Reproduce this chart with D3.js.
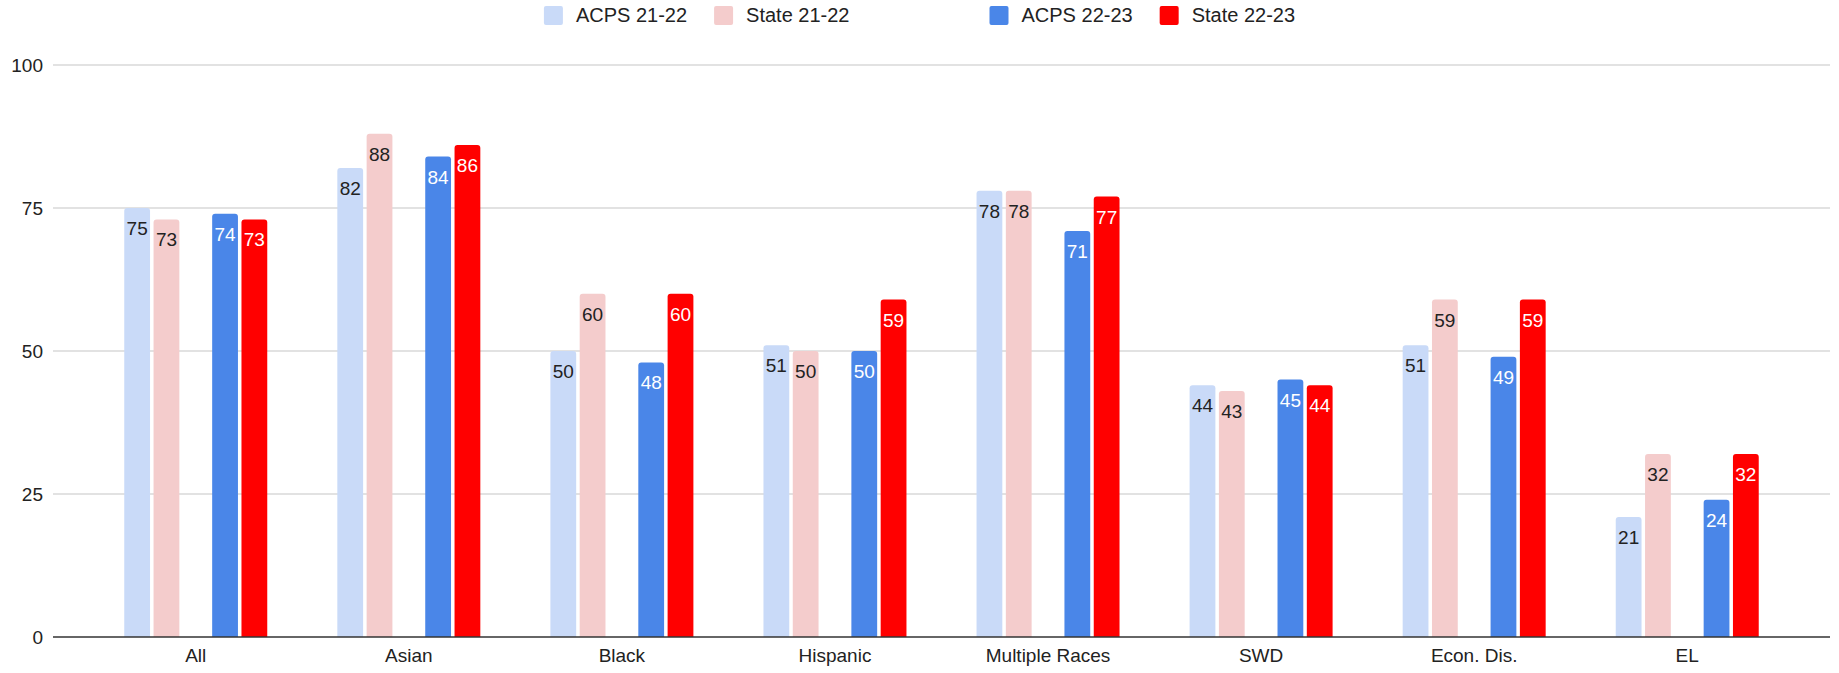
<!DOCTYPE html>
<html>
<head>
<meta charset="utf-8">
<script src="https://cdn.jsdelivr.net/npm/d3@7"></script>
<style>
  body { margin: 0; background: #fff; }
  svg { display: block; font-family: "Liberation Sans", Arial, sans-serif; }
</style>
</head>
<body>
<svg class="chart" width="1839" height="673"></svg>
<script>
const categories = ['All', 'Asian', 'Black', 'Hispanic', 'Multiple Races', 'SWD', 'Econ. Dis.', 'EL'];
const seriesNames = ['ACPS 21-22', 'State 21-22', '', 'ACPS 22-23', 'State 22-23'];
const acps2122 = [75, 82, 50, 51, 78, 44, 51, 21];
const state2122 = [73, 88, 60, 50, 78, 43, 59, 32];
const acps2223 = [74, 84, 48, 50, 71, 45, 49, 24];
const state2223 = [73, 86, 60, 59, 77, 44, 59, 32];
const yTicks = [0, 25, 50, 75, 100];

const colors = ['#c9daf8', '#f4cccc', 'none', '#4a86e8', '#ff0000'];
const labelColors = ['#222', '#222', 'none', '#fff', '#fff'];
const seriesValues = [acps2122, state2122, null, acps2223, state2223];

const width = 1839, height = 673;
const margin = { top: 65, right: 9, bottom: 36, left: 53 };
const svg = d3.select('.chart');

const x0 = d3.scaleBand()
    .domain(categories)
    .range([margin.left, width - margin.right])
    .paddingInner(0)
    .paddingOuter(0.17);

const x1 = d3.scaleBand()
    .domain(d3.range(seriesNames.length))
    .range([(x0.bandwidth() - 143) / 2, (x0.bandwidth() + 143) / 2])
    .paddingInner(0.12);

const y = d3.scaleLinear()
    .domain([0, 100])
    .range([height - margin.bottom, margin.top]);

// gridlines
svg.append('g').attr('class', 'grid')
    .selectAll('line')
    .data(yTicks.filter(d => d > 0))
    .join('line')
    .attr('x1', margin.left).attr('x2', width - margin.right)
    .attr('y1', d => y(d)).attr('y2', d => y(d))
    .attr('stroke', '#d9d9d9').attr('stroke-width', 1.5);

// y tick labels
let yAxis = d3.axisLeft(y).tickValues(yTicks).tickSize(0).tickPadding(10);
svg.append('g').classed('yAxis', true)
    .attr('transform', `translate(${margin.left},0)`)
    .call(yAxis);
d3.select('.yAxis').select('.domain').remove();
d3.select('.yAxis').selectAll('text')
    .style('font-size', '19px').style('fill', '#222')
    .style('font-family', '"Liberation Sans", Arial, sans-serif');

// bars
function barPath(xl, yt, w, yb, r) {
    r = Math.min(r, yb - yt);
    return `M${xl},${yb}V${yt + r}Q${xl},${yt} ${xl + r},${yt}H${xl + w - r}Q${xl + w},${yt} ${xl + w},${yt + r}V${yb}Z`;
}

const rows = [];
seriesValues.forEach((vals, si) => {
    if (!vals) return;
    vals.forEach((v, ci) => rows.push({ si, cat: categories[ci], value: v }));
});

const bars = svg.append('g').attr('class', 'bars');
bars.selectAll('path')
    .data(rows)
    .join('path')
    .attr('d', d => barPath(x0(d.cat) + x1(d.si), y(d.value), x1.bandwidth(), y(0), 3))
    .style('fill', d => colors[d.si]);

bars.selectAll('text')
    .data(rows)
    .join('text')
    .attr('x', d => x0(d.cat) + x1(d.si) + x1.bandwidth() / 2)
    .attr('y', d => y(d.value) + 27)
    .attr('text-anchor', 'middle')
    .style('font-size', '19px')
    .style('fill', d => labelColors[d.si])
    .text(d => d.value);

// baseline
svg.append('line')
    .attr('x1', margin.left).attr('x2', width - margin.right)
    .attr('y1', y(0)).attr('y2', y(0))
    .attr('stroke', '#333').attr('stroke-width', 1.5);

// x axis labels
let xAxis = d3.axisBottom(x0).tickSize(0).tickPadding(12);
svg.append('g').classed('xAxis', true)
    .attr('transform', `translate(0,${y(0)})`)
    .call(xAxis);
d3.select('.xAxis').select('.domain').remove();
d3.select('.xAxis').selectAll('text')
    .style('font-size', '19px').style('fill', '#222')
    .style('font-family', '"Liberation Sans", Arial, sans-serif');

// legend
const legend = svg.append('g').attr('class', 'legend');
let lx = 0;
seriesNames.forEach((name, i) => {
    const g = legend.append('g').attr('transform', `translate(${lx},0)`);
    if (name === '') { lx += 113; return; }
    g.append('rect')
        .attr('x', 0).attr('y', 6).attr('width', 19).attr('height', 19)
        .attr('rx', 2)
        .style('fill', colors[i]);
    const t = g.append('text')
        .attr('x', 32).attr('y', 22)
        .style('font-size', '20px').style('fill', '#222')
        .text(name);
    const tw = t.node().getComputedTextLength();
    lx += 32 + tw + (i < seriesNames.length - 1 ? 27 : 0);
});
legend.attr('transform', `translate(${(width - lx) / 2},0)`);
</script>
</body>
</html>
